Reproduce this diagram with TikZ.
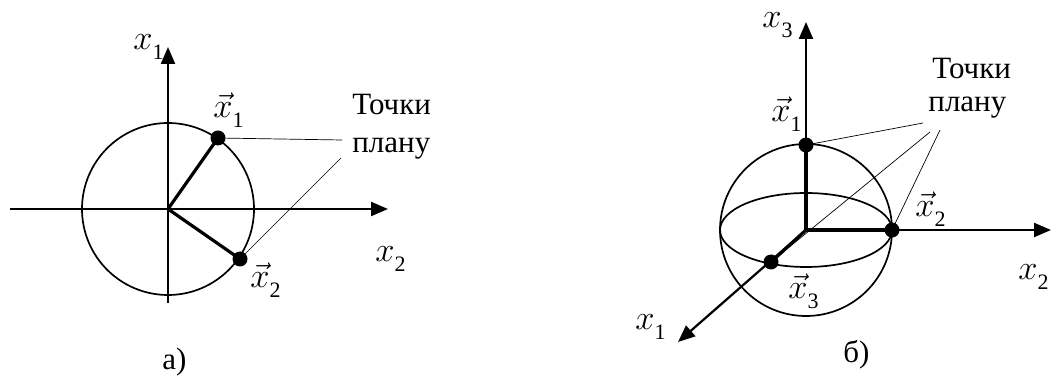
\documentclass[tikz,border=0pt]{standalone}
\usepackage{fontspec}
\setmainfont{Liberation Serif}
\usetikzlibrary{arrows.meta}
\newcommand{\xbig}{{\fontsize{17}{17}\selectfont$x$}}
\newcommand{\xsub}[1]{\raisebox{-5pt}{\fontsize{11}{11}\selectfont #1}}
\newcommand{\xvec}[1]{{\fontsize{17}{17}\selectfont$\vec{x}$}\xsub{#1}}
\newcommand{\xaxis}[1]{\xbig\xsub{#1}}
\begin{document}
\begin{tikzpicture}[x=0.5pt,y=-0.5pt,font=\fontsize{15.5}{16.5}\selectfont,
    axis/.style={line width=1.1pt,-{Triangle[length=8.5pt,width=7pt]}},
    vect/.style={line width=1.6pt},
    lead/.style={line width=0.35pt},
    dot/.style={circle,fill,inner sep=0pt,minimum size=7.5pt},
    lbl/.style={anchor=base west,inner sep=0pt}]
\useasboundingbox (0,0) rectangle (1052,378);
% a) circle in the plane
\coordinate (Oa) at (168,209);
\coordinate (La) at (10,209);
\coordinate (Ra) at (388,209);
\coordinate (Ba) at (168,303);
\coordinate (Ta) at (168,47);
\draw[line width=0.85pt] (Oa) circle (43pt);
\draw[axis] (La) -- (Ra);
\draw[axis] (Ba) -- (Ta);
\node[dot] (a1) at (218,138) {};
\node[dot] (a2) at (240,259) {};
\draw[vect] (Oa) -- (a1.center);
\draw[vect] (Oa) -- (a2.center);
\node[lbl] (pa) at (352,115) {Точки};
\node[lbl] (pla) at (352,153) {плану};
\coordinate (ea1) at (342,140);
\coordinate (ea2) at (341,158);
\draw[lead] (a1.center) -- (ea1);
\draw[lead] (a2.center) -- (ea2);
\node[lbl] (xa1) at (133,50) {\xaxis{1}};
\node[lbl] (xa2) at (375,262) {\xaxis{2}};
\node[lbl] (va1) at (213,118) {\xvec{1}};
\node[lbl] (va2) at (250,288) {\xvec{2}};
\node[lbl] (capa) at (162,370) {а)};
% b) sphere in space
\coordinate (Ob) at (806,230);
\coordinate (Tb) at (806,22);
\coordinate (Rb) at (1051,230);
\coordinate (Db) at (678,342);
\draw[line width=0.85pt] (Ob) circle (43pt);
\draw[line width=0.85pt] (Ob) ellipse [x radius=43pt,y radius=18.5pt];
\draw[axis] (Ob) -- (Tb);
\draw[axis] (Ob) -- (Rb);
\draw[axis] (Ob) -- (Db);
\node[dot] (b1) at (806,145) {};
\node[dot] (b2) at (892,230) {};
\node[dot] (b3) at (771,262) {};
\draw[vect] (Ob) -- (b1.center);
\draw[vect] (Ob) -- (b2.center);
\draw[vect] (Ob) -- (b3.center);
\node[lbl] (pb) at (932,79) {Точки};
\node[lbl] (plb) at (928,112) {плану};
\coordinate (eb1) at (923,123);
\coordinate (eb3) at (930,132);
\coordinate (eb2) at (940,130);
\draw[lead] (b1.center) -- (eb1);
\draw[lead] (b3.center) -- (eb3);
\draw[lead] (b2.center) -- (eb2);
\node[lbl] (xb3) at (762,28) {\xaxis{3}};
\node[lbl] (xb2) at (1018,280) {\xaxis{2}};
\node[lbl] (xb1) at (635,330) {\xaxis{1}};
\node[lbl] (vb1) at (771,122) {\xvec{1}};
\node[lbl] (vb2) at (915,217) {\xvec{2}};
\node[lbl] (vb3) at (788,299) {\xvec{3}};
\node[lbl] (capb) at (843,363) {б)};
\end{tikzpicture}
\end{document}
